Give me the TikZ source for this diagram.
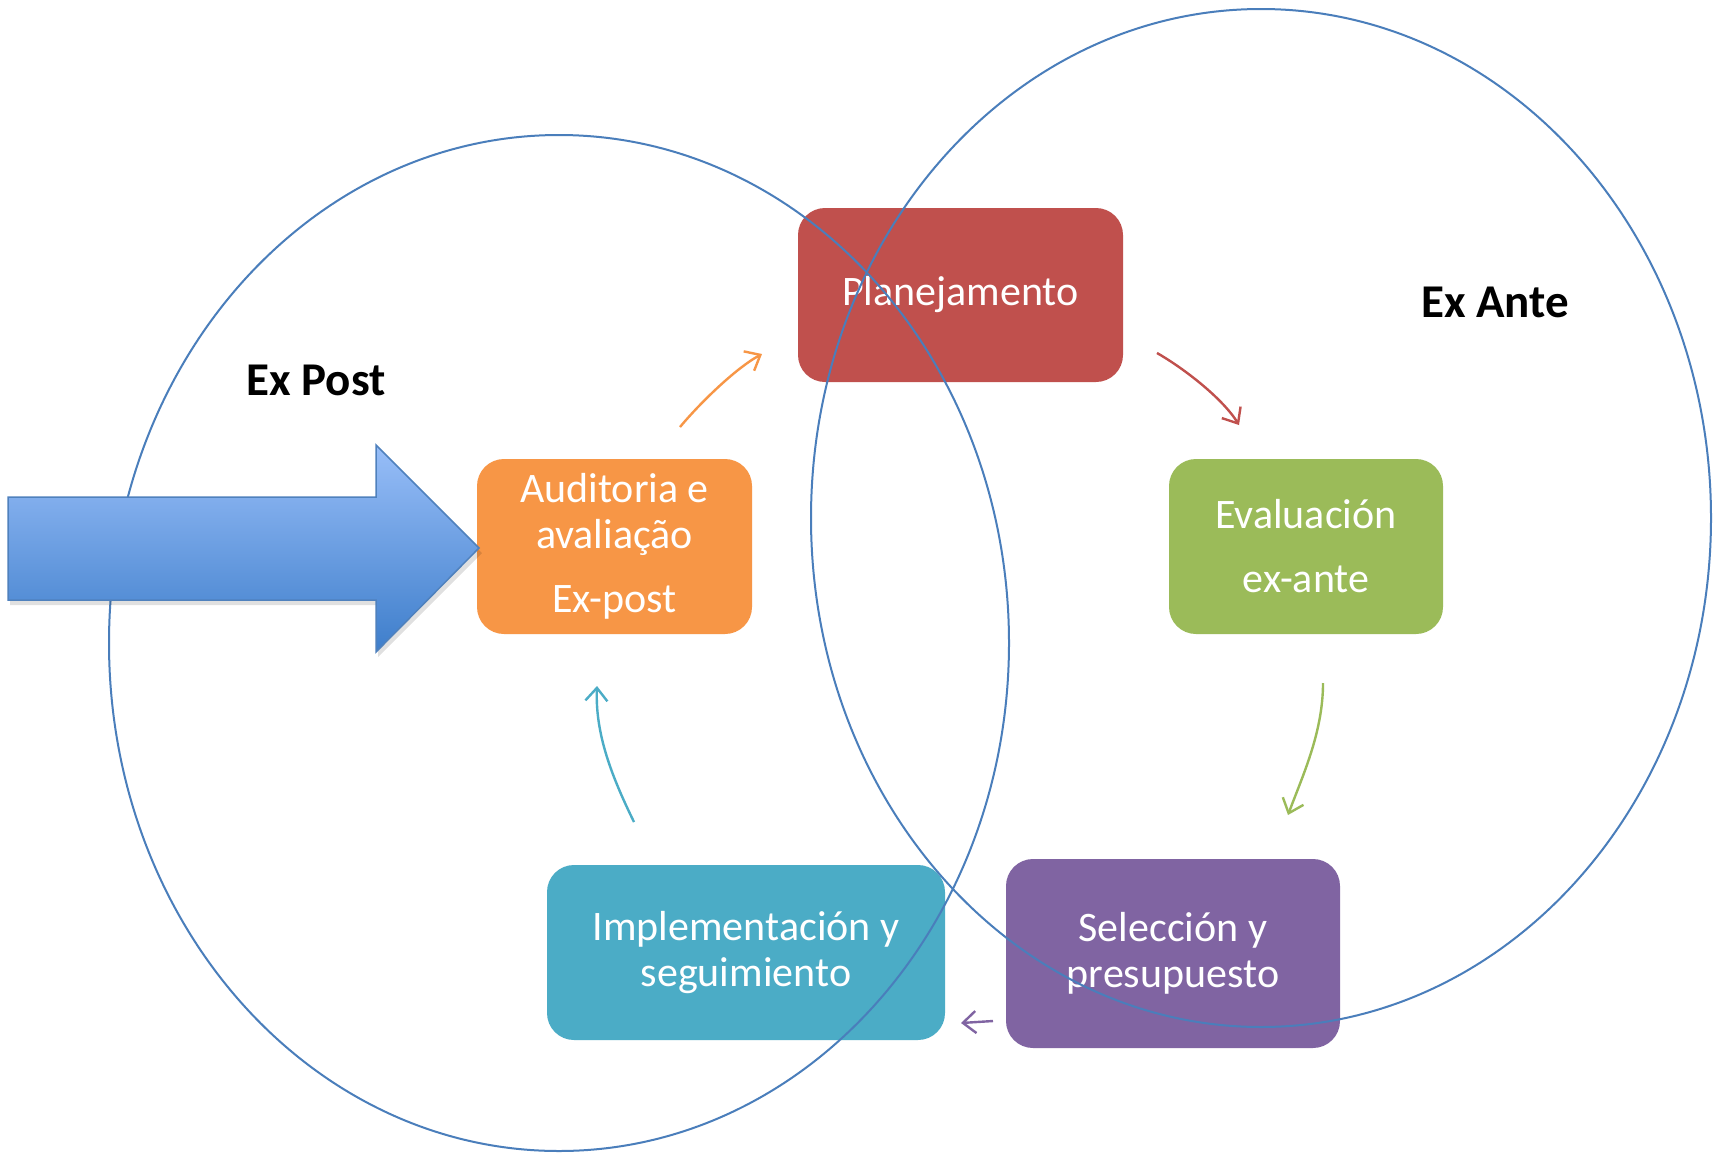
\documentclass[tikz,border=0pt]{standalone}
\usepackage{fontspec}
\setmainfont{Carlito}
\usetikzlibrary{arrows.meta}
\definecolor{cred}{HTML}{C0504D}
\definecolor{corange}{HTML}{F79646}
\definecolor{cgreen}{HTML}{9BBB59}
\definecolor{cpurple}{HTML}{8064A2}
\definecolor{cteal}{HTML}{4BACC6}
\definecolor{cline}{HTML}{4A7EBB}
\definecolor{arrtop}{HTML}{98BEF8}
\definecolor{arrbot}{HTML}{3E7ECB}
\definecolor{arredge}{HTML}{4F81BD}
\tikzset{
  box/.style={rectangle, rounded corners=27pt, inner sep=0pt, draw=none, text=white,
    font=\fontsize{42}{46}\selectfont, align=center},
  ring/.style={draw=cline, line width=2pt},
  flow/.style={line width=2.4pt, -{Straight Barb[length=13pt,width=22pt,line width=2.4pt]}},
  label/.style={font=\fontsize{47}{50}\selectfont\bfseries, text=black}
}
\begin{document}
\begin{tikzpicture}[x=1pt,y=-1pt]
\useasboundingbox (0,0) rectangle (1713,1152);
\fill[white] (0,0) rectangle (1713,1152);
% boxes
\node[box, fill=cred, minimum width=325pt, minimum height=174pt] (plan) at (960.5,295) {Planejamento};
\node[box, fill=corange, minimum width=275pt, minimum height=175pt] (aud) at (614.5,546.5) {Auditoria e\\avaliação\\[18pt]Ex-post};
\node[box, fill=cgreen, minimum width=274pt, minimum height=175pt] (eva) at (1306,546.5) {Evaluación\\[18pt]ex-ante};
\node[box, fill=cpurple, minimum width=334pt, minimum height=189pt] (sel) at (1173,953.5) {Selección y\\presupuesto};
\node[box, fill=cteal, minimum width=398pt, minimum height=175pt] (imp) at (746,952.5) {Implementación y\\seguimiento};
% ellipses
\draw[ring] (559,643) ellipse [x radius=450pt, y radius=508pt];
\draw[ring] (1261,518) ellipse [x radius=450pt, y radius=509pt];
% labels
\node[label] (expost) at (316,380) {Ex Post};
\node[label] (exante) at (1495,302) {Ex Ante};
% big arrow
\fill[black, opacity=0.12] (10,501) -- (378,501) -- (378,449) -- (482,553) -- (378,657) -- (378,605) -- (10,605) -- cycle;
\shade[top color=arrtop, bottom color=arrbot, draw=arredge, line width=1.5pt, line join=miter]
  (8,497) -- (376,497) -- (376,445) -- (479,548) -- (376,652) -- (376,600) -- (8,600) -- cycle;
% cycle arrows
\coordinate (o1) at (680,427); \coordinate (o2) at (762,354);
\coordinate (r1) at (1157,353); \coordinate (r2) at (1239,425);
\coordinate (g1) at (1323,683); \coordinate (g2) at (1288,815);
\coordinate (p1) at (993,1021); \coordinate (p2) at (961,1023);
\coordinate (t1) at (634,822); \coordinate (t2) at (597,686);
\draw[flow, corange] (o1) .. controls +(20,-24) and +(-26,14) .. (o2);
\draw[flow, cred] (r1) .. controls +(28,16) and +(-16,-26) .. (r2);
\draw[flow, cgreen] (g1) .. controls +(0,50) and +(14,-38) .. (g2);
\draw[flow, cpurple] (p1) -- (p2);
\draw[flow, cteal] (t1) .. controls +(-22,-45) and +(-2,48) .. (t2);
\end{tikzpicture}
\end{document}
